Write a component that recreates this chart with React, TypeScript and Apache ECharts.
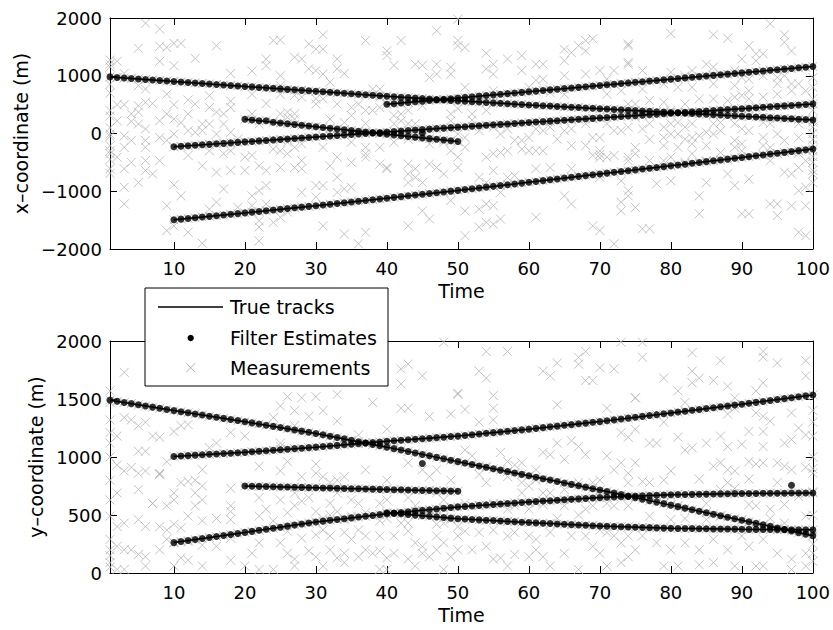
import React, { useEffect, useRef } from "react";
import * as echarts from "echarts";

// ---------- axes ----------
const timeTicks = [10, 20, 30, 40, 50, 60, 70, 80, 90, 100];
const xCoordRange = [-2000, 2000];
const yCoordRange = [0, 2000];

// ---------- true tracks (time, value) ----------
const xTrueA = [[1, 980], [10, 900], [20, 815], [30, 730], [40, 645], [50, 565], [60, 495], [70, 430], [80, 365], [90, 300], [100, 234]];
const xTrueB = [[10, -230], [20, -145], [30, -60], [40, 25], [50, 110], [60, 190], [70, 270], [80, 350], [90, 430], [100, 510]];
const xTrueC = [[10, -1495], [20, -1375], [30, -1250], [40, -1120], [50, -985], [60, -845], [70, -700], [80, -560], [90, -415], [100, -268]];
const xTrueD = [[20, 247], [30, 118], [40, -11], [50, -140]];
const xTrueE = [[40, 505], [50, 614], [60, 723], [70, 832], [80, 941], [90, 1050], [100, 1159]];

const yTrueA = [[1, 1490], [10, 1400], [20, 1304], [30, 1203], [40, 1085], [50, 960], [60, 838], [70, 715], [80, 585], [90, 455], [100, 322]];
const yTrueB = [[10, 1005], [20, 1040], [30, 1085], [40, 1135], [50, 1180], [60, 1240], [70, 1305], [80, 1380], [90, 1455], [100, 1535]];
const yTrueC = [[10, 262], [20, 350], [30, 440], [40, 510], [50, 570], [60, 612], [70, 650], [80, 675], [90, 685], [100, 690]];
const yTrueD = [[20, 750], [30, 735], [40, 720], [50, 705]];
const yTrueE = [[40, 520], [50, 468], [60, 435], [70, 405], [80, 385], [90, 377], [100, 372]];

// ---------- filter estimates (one per time step, from start time) ----------
const estStarts = { A: 1, B: 10, C: 10, D: 20, E: 40 };

const estXA = [980, 971, 962, 953, 944, 936, 927, 918, 909, 900,
  892, 883, 875, 866, 858, 849, 841, 832, 824, 815,
  807, 798, 790, 781, 773, 764, 756, 747, 739, 730,
  722, 713, 705, 696, 688, 679, 671, 662, 654, 645,
  637, 629, 621, 613, 605, 597, 589, 581, 573, 565,
  558, 551, 544, 537, 530, 523, 516, 509, 502, 495,
  489, 482, 476, 469, 463, 456, 450, 443, 437, 430,
  424, 417, 411, 404, 398, 391, 385, 378, 372, 365,
  359, 352, 346, 339, 333, 326, 320, 313, 307, 300,
  293, 287, 280, 274, 267, 260, 254, 247, 241, 234];
const estXB = [-230, -222, -213, -205, -196, -188, -179, -171, -162, -154, -145,
  -137, -128, -120, -111, -103, -94, -86, -77, -69, -60,
  -52, -43, -35, -26, -18, -9, -1, 8, 16, 25,
  34, 42, 51, 59, 68, 76, 85, 93, 102, 110,
  118, 126, 134, 142, 150, 158, 166, 174, 182, 190,
  198, 206, 214, 222, 230, 238, 246, 254, 262, 270,
  278, 286, 294, 302, 310, 318, 326, 334, 342, 350,
  358, 366, 374, 382, 390, 398, 406, 414, 422, 430,
  438, 446, 454, 462, 470, 478, 486, 494, 502, 510];
const estXC = [-1495, -1483, -1471, -1459, -1447, -1435, -1423, -1411, -1399, -1387, -1375,
  -1362, -1350, -1337, -1325, -1312, -1300, -1287, -1275, -1262, -1250,
  -1237, -1224, -1211, -1198, -1185, -1172, -1159, -1146, -1133, -1120,
  -1106, -1093, -1079, -1066, -1052, -1039, -1025, -1012, -998, -985,
  -971, -957, -943, -929, -915, -901, -887, -873, -859, -845,
  -830, -816, -801, -787, -772, -758, -743, -729, -714, -700,
  -686, -672, -658, -644, -630, -616, -602, -588, -574, -560,
  -545, -531, -516, -502, -487, -473, -458, -444, -429, -415,
  -400, -386, -371, -356, -341, -327, -312, -297, -283, -268];
const estXD = [247, 234, 221, 222, 195, 182, 169, 157, 144, 131, 118, 105, 92, 79, 66, 53, 40, 27, 15, 2,
  -11, -24, -37, -50, -63, -76, -89, -101, -114, -127, -140];
const estXE = [505, 516, 527, 538, 549, 560, 570, 581, 592, 603, 614,
  625, 636, 647, 658, 669, 679, 690, 701, 712, 723,
  734, 745, 756, 767, 778, 788, 799, 810, 821, 832,
  843, 854, 865, 876, 887, 897, 908, 919, 930, 941,
  952, 963, 974, 985, 996, 1006, 1017, 1028, 1039, 1050,
  1061, 1072, 1083, 1094, 1105, 1115, 1126, 1137, 1148, 1159];
const strayEstX = [[45, 14]];

const estYA = [1490, 1480, 1470, 1460, 1450, 1440, 1430, 1420, 1410, 1400,
  1390, 1381, 1371, 1362, 1352, 1342, 1333, 1323, 1314, 1304,
  1294, 1284, 1274, 1264, 1254, 1243, 1233, 1223, 1213, 1203,
  1191, 1179, 1168, 1156, 1144, 1132, 1120, 1109, 1097, 1085,
  1072, 1060, 1047, 1035, 1022, 1010, 997, 985, 972, 960,
  948, 936, 923, 911, 899, 887, 875, 862, 850, 838,
  826, 813, 801, 789, 776, 764, 752, 740, 727, 715,
  702, 689, 676, 663, 650, 637, 624, 611, 598, 585,
  572, 559, 546, 533, 520, 507, 494, 481, 468, 455,
  442, 428, 415, 402, 388, 375, 362, 348, 335, 322];
const estYB = [1005, 1009, 1012, 1016, 1019, 1023, 1026, 1030, 1033, 1037, 1040,
  1045, 1049, 1054, 1058, 1063, 1067, 1072, 1076, 1081, 1085,
  1090, 1095, 1100, 1105, 1110, 1115, 1120, 1125, 1130, 1135,
  1140, 1144, 1149, 1153, 1158, 1162, 1167, 1171, 1176, 1180,
  1186, 1192, 1198, 1204, 1210, 1216, 1222, 1228, 1234, 1240,
  1247, 1253, 1260, 1266, 1273, 1279, 1286, 1292, 1299, 1305,
  1313, 1320, 1328, 1335, 1343, 1350, 1358, 1365, 1373, 1380,
  1388, 1395, 1403, 1410, 1418, 1425, 1433, 1440, 1448, 1455,
  1463, 1471, 1479, 1487, 1495, 1503, 1511, 1519, 1527, 1535];
const estYC = [262, 271, 280, 288, 297, 306, 315, 324, 332, 341, 350,
  359, 368, 377, 386, 395, 404, 413, 422, 431, 440,
  447, 454, 461, 468, 475, 482, 489, 496, 503, 510,
  516, 522, 528, 534, 540, 546, 552, 558, 564, 570,
  574, 578, 583, 587, 591, 595, 599, 604, 608, 612,
  616, 620, 623, 627, 631, 635, 639, 642, 646, 650,
  653, 655, 658, 660, 663, 665, 668, 670, 673, 675,
  676, 677, 678, 679, 680, 681, 682, 683, 684, 685,
  686, 686, 687, 687, 688, 688, 689, 689, 690, 690];
const estYD = [750, 748, 747, 745, 744, 742, 741, 739, 738, 736, 735, 733, 732, 730, 729, 727, 726, 724, 723, 721,
  720, 718, 717, 715, 714, 712, 711, 709, 708, 706, 705];
const estYE = [520, 515, 510, 504, 499, 494, 489, 484, 478, 473, 468,
  465, 461, 458, 455, 452, 448, 445, 442, 438, 435,
  432, 429, 426, 423, 420, 417, 414, 411, 408, 405,
  403, 401, 399, 397, 395, 393, 391, 389, 387, 385,
  384, 383, 383, 382, 381, 380, 379, 379, 378, 377,
  376, 376, 375, 375, 374, 374, 373, 373, 372, 372];
const strayEstY = [[45, 944], [97, 757]];

// ---------- clutter measurements (time, value) ----------
const clutterX = [
  [6, 1910], [8, 1810], [5, 1475], [8, 1510], [9, 1490], [10, 1560], [11, 1560], [16, 1520], [2, 1250], [8, 1250], [10, 1175], [13, 1300], [18, 1040], [21, 1080], [23, 1290], [23, 1175], [24, 1610], [25, 1620], [3, 1040], [1, 1200],
  [5, 830], [6, 770], [9, 680], [12, 580], [15, 655], [18, 560], [21, 680], [25, 680], [2, 500], [3, 500], [4, 340], [5, 480], [5, 370], [6, 540], [7, 520], [10, 500], [12, 340], [13, 510], [15, 450], [16, 370], [17, 340], [18, 450], [23, 520], [25, 340],
  [2, 220], [4, 210], [5, 165], [6, 80], [8, 220], [9, 340], [10, 250], [11, 190], [13, 20], [14, 165], [15, 165], [17, 165], [21, 340], [22, 165], [1, -10], [3, -40], [4, -120], [6, -120], [8, -70], [10, -10], [12, 50], [14, 50], [16, -10], [18, 20], [19, -95],
  [1, -210], [3, -240], [6, -240], [9, -120], [12, -380], [15, -300], [17, -350], [18, -300], [20, -410], [21, -380], [22, -560], [24, -270], [1, -350], [2, -410], [4, -500], [6, -470], [8, -470], [14, -560], [16, -670], [18, -640], [20, -640], [23, -640], [25, -590],
  [1, -610], [3, -610], [6, -640], [7, -700], [5, -850], [3, -930], [10, -890], [11, -1080], [17, -960], [21, -1080], [22, -990], [23, -900], [3, -1220], [9, -1250], [16, -1190], [15, -1310], [19, -1280], [21, -1250], [22, -1510], [23, -1220], [24, -1540],
  [9, -1680], [10, -1600], [12, -1710], [14, -1900], [22, -1620], [22, -1860],
  [1, 1270], [1, 1150], [1, 850], [1, 700], [1, 400], [1, 300], [1, 100], [1, -50], [1, -300], [1, -450], [1, -690],
  [31, 1710], [29, 1550], [30, 1460], [31, 1460], [37, 1610], [42, 1610], [47, 1780], [40, 1430], [40, 1350], [41, 1180], [44, 1200], [45, 1180], [47, 1200], [47, 1030], [46, 970], [49, 1150], [49, 1030], [50, 1520], [27, 1320], [28, 1290], [33, 1290], [29, 1120], [30, 1090], [31, 1030], [33, 1120], [34, 1040], [32, 890],
  [25, 1000], [25, 830], [27, 660], [28, 630], [30, 600], [30, 510], [31, 600], [33, 510], [35, 450], [36, 510], [38, 770], [39, 770], [39, 630], [37, 400], [38, 400], [39, 450], [41, 310], [42, 340], [43, 400], [45, 480], [49, 340], [26, 370], [27, 340], [26, 280], [27, 250], [32, 250], [34, 190], [35, 310], [37, 170], [41, 170], [42, 220], [43, 170], [44, 170], [49, 220],
  [26, -150], [28, -180], [31, -240], [35, -150], [37, -240], [39, -240], [41, -150], [43, -100], [46, -180], [48, -150], [49, -300], [25, -300], [27, -240], [26, -350], [28, -470], [27, -590], [28, -610], [32, -560], [33, -410], [35, -500], [37, -410], [37, -350], [39, -530], [40, -590], [40, -610], [43, -530], [43, -700], [44, -610], [46, -530], [47, -590], [48, -700],
  [30, -900], [31, -900], [30, -1100], [33, -760], [34, -960], [35, -930], [33, -1020], [43, -850], [44, -760], [45, -850], [28, -1020], [26, -1360], [25, -1450], [31, -1600], [34, -1740], [36, -1910], [37, -1710], [43, -1600], [45, -1340], [46, -1480], [49, -1160], [50, -590], [50, -10], [50, 1980],
  [50, 1610], [51, 1490], [54, 1390], [55, 1200], [55, 1030], [54, 1120], [57, 1290], [59, 1350], [59, 1090], [61, 1200], [62, 1200], [61, 920], [62, 940], [65, 1460], [66, 1400], [67, 1520], [68, 1610], [69, 1640], [68, 1430], [65, 1260], [65, 1000], [68, 1030], [70, 1090], [71, 940], [74, 1520], [74, 1230], [72, 1090], [73, 740], [74, 510], [71, 680], [65, 680], [63, 710], [60, 800], [55, 740], [53, 600], [51, 800],
  [50, 430], [52, 340], [54, 400], [52, 230], [53, 50], [55, 110], [56, -10], [57, 80], [58, -120], [59, -120], [60, -70], [61, 80], [62, 50], [63, 110], [64, -100], [65, 50], [66, 80], [68, 170], [69, 250], [69, -70], [70, -70], [71, 170], [72, 50], [73, 50], [74, 110],
  [51, -70], [51, -240], [50, -410], [54, -410], [55, -350], [56, -330], [57, -300], [59, -270], [60, -300], [61, -300], [62, -300], [66, -210], [68, -210], [70, -300], [71, -410], [72, -380], [74, -470], [75, -350], [69, -380], [70, -420], [70, -360],
  [53, -760], [54, -850], [55, -640], [56, -1020], [57, -760], [58, -730], [61, -610], [63, -590], [66, -610], [70, -760], [73, -820], [74, -990], [51, -1340], [53, -1310], [54, -1220], [55, -1250], [54, -1540], [53, -1620], [55, -1570], [56, -1480], [61, -1450], [51, -1770], [65, -1080], [66, -1220], [69, -1600], [70, -1680], [72, -1910], [73, -1190], [73, -1340],
  [80, 1730], [86, 1710], [88, 1650], [94, 1900], [96, 1710], [96, 1580], [97, 1430], [91, 1520], [92, 1380], [93, 1380], [90, 1290], [92, 1260], [85, 1200], [83, 1090], [76, 1090], [80, 1060], [82, 1000], [86, 1150], [89, 1090], [90, 970], [91, 940], [93, 1000], [95, 970], [96, 1000], [97, 860], [98, 860], [99, 740], [100, 970], [74, 1550], [74, 1200],
  [76, 770], [79, 860], [81, 800], [83, 800], [86, 860], [89, 830], [91, 740], [95, 860], [75, 510], [77, 570], [79, 540], [80, 400], [82, 510], [84, 600], [86, 600], [88, 570], [89, 630], [90, 660], [91, 600], [93, 630], [95, 680], [97, 740],
  [75, 280], [77, 170], [79, 110], [80, 170], [81, 190], [82, 110], [83, 170], [86, 170], [87, 190], [89, 170], [90, 80], [91, 50], [93, 190], [94, 170], [98, 170], [100, 110], [76, 80], [77, -100], [79, -70], [80, -10], [81, -10], [82, -100], [83, -70], [84, -40], [85, 20], [86, -10], [87, 50], [89, -120], [90, -180], [93, -70], [95, -10], [96, -120], [98, -70], [100, -100],
  [75, -240], [79, -210], [81, -240], [83, -180], [85, -210], [87, -330], [89, -240], [90, -300], [93, -210], [94, -240], [95, -350], [98, -350], [100, -300], [74, -410], [77, -470], [79, -470], [80, -410], [82, -500], [83, -350], [85, -470], [88, -700], [89, -900], [91, -790], [94, -470], [96, -670], [97, -700], [98, -590], [99, -470], [100, -500], [100, -640],
  [78, -870], [80, -820], [85, -850], [84, -1080], [74, -1080], [75, -1280], [84, -1390], [90, -1390], [91, -1390], [94, -1220], [95, -1220], [95, -1420], [97, -1250], [99, -930], [98, -990], [99, -1250], [76, -1650], [77, -1650], [98, -1710], [99, -1770],
  [100, 800], [100, 600], [100, 400], [100, 200], [100, 0], [100, -200], [100, -400], [100, -700], [100, -850],
];

const clutterY = [
  [3, 1730], [1, 1570], [1, 1470], [1, 1320], [3, 1340], [4, 1320], [6, 1300], [5, 1270], [1, 1210], [2, 1180], [7, 1180], [8, 1170], [10, 1220], [11, 1270], [12, 1280], [18, 1210], [20, 1180], [25, 1440], [24, 1340], [1, 1120], [5, 1050], [6, 1050], [9, 960], [16, 1120], [15, 1080], [25, 1120],
  [2, 930], [3, 880], [4, 910], [5, 860], [6, 880], [5, 720], [8, 850], [8, 860], [12, 790], [13, 800], [14, 750], [11, 780], [14, 890], [18, 730], [22, 920], [25, 880], [1, 630], [2, 690], [7, 600], [9, 580], [10, 690], [10, 630], [13, 690], [13, 580], [14, 630], [18, 580], [18, 530], [22, 650], [23, 550], [25, 630],
  [1, 490], [2, 400], [3, 430], [5, 460], [6, 400], [8, 400], [9, 370], [10, 420], [11, 390], [12, 490], [14, 450], [16, 470], [18, 460], [22, 490], [24, 450], [1, 290], [2, 230], [3, 200], [5, 160], [6, 140], [4, 200], [8, 200], [9, 290], [10, 260], [12, 270], [14, 240], [16, 230], [18, 300], [21, 170], [22, 260], [25, 260],
  [1, 90], [2, 30], [3, 30], [6, 60], [10, 60], [11, 130], [12, 110], [14, 60], [18, 110], [20, 60], [22, 30], [24, 30], [1, 1000], [1, 800], [1, 200], [1, 150], [1, 50], [7, 600], [8, 850],
  [48, 1990], [42, 1760], [43, 1800], [45, 1700], [42, 1630], [50, 1540], [26, 1520], [28, 1510], [30, 1520], [33, 1540], [38, 1470], [42, 1420], [43, 1420], [46, 1350], [49, 1370], [27, 1400], [29, 1350], [31, 1400], [33, 1310], [40, 1240], [27, 1270], [36, 1190], [25, 1090],
  [37, 890], [40, 800], [46, 830], [26, 960], [28, 830], [30, 940], [30, 860], [31, 830], [32, 780], [33, 800], [34, 830], [43, 950], [45, 890], [49, 800], [47, 890], [27, 690], [28, 620], [29, 650], [32, 600], [33, 690], [35, 630], [36, 600], [39, 600], [40, 630], [43, 650], [44, 580], [47, 690], [48, 630],
  [26, 520], [27, 580], [30, 530], [31, 470], [32, 500], [33, 530], [34, 460], [35, 490], [37, 520], [39, 450], [40, 470], [42, 430], [43, 430], [47, 420], [48, 430], [49, 460], [26, 360], [28, 300], [30, 330], [31, 370], [32, 320], [34, 350], [35, 290], [36, 370], [37, 320], [39, 320], [41, 320], [43, 360], [44, 260], [45, 230], [47, 320], [48, 260], [50, 320],
  [26, 170], [27, 120], [29, 190], [30, 140], [32, 200], [33, 130], [34, 170], [36, 140], [37, 200], [38, 170], [39, 190], [40, 130], [41, 170], [43, 120], [44, 60], [45, 170], [46, 140], [47, 200], [49, 140], [27, 60], [31, 60], [34, 90], [39, 30], [40, 30], [48, 30],
  [54, 1910], [57, 1910], [53, 1740], [54, 1680], [62, 1740], [63, 1700], [64, 1810], [67, 1860], [67, 1800], [68, 1910], [69, 1660], [70, 1770], [72, 1760], [68, 1660], [73, 1990], [50, 1550], [55, 1530], [55, 1420], [55, 1320], [51, 1410], [53, 1300], [64, 1450], [71, 1420], [73, 1210], [74, 1170], [75, 1510],
  [51, 1060], [52, 1010], [54, 920], [53, 850], [56, 1040], [57, 960], [58, 930], [59, 950], [61, 890], [62, 1040], [63, 1020], [64, 1120], [65, 980], [66, 1140], [67, 1090], [68, 1020], [71, 1010], [72, 890], [73, 950], [74, 860],
  [54, 780], [57, 830], [59, 780], [60, 750], [59, 690], [61, 800], [62, 690], [63, 690], [65, 720], [67, 780], [69, 780], [70, 800], [74, 780], [51, 600], [53, 580], [55, 600], [57, 550], [58, 580], [60, 550], [61, 600], [62, 590], [65, 580], [67, 500], [68, 550], [69, 580], [71, 600], [72, 580], [74, 580],
  [50, 400], [51, 360], [53, 350], [55, 370], [57, 320], [58, 350], [60, 320], [61, 290], [63, 350], [64, 470], [66, 320], [68, 320], [70, 370], [71, 350], [72, 320], [73, 260], [74, 320],
  [50, 200], [52, 200], [54, 230], [55, 120], [56, 130], [57, 60], [58, 160], [60, 140], [61, 200], [62, 140], [63, 60], [65, 170], [67, 30], [69, 230], [70, 170], [71, 60], [73, 90], [74, 140], [75, 200],
  [76, 1990], [76, 1860], [83, 1900], [87, 1830], [93, 1910], [93, 1860], [95, 1810], [99, 1830], [79, 1680], [83, 1740], [84, 1680], [83, 1640], [86, 1660], [99, 1700], [75, 1510], [81, 1570], [88, 1610], [92, 1570], [93, 1640], [89, 1510], [82, 1470], [89, 1420], [88, 1370], [92, 1380], [93, 1350], [94, 1310], [97, 1380], [79, 1300], [75, 1240], [91, 1220], [93, 1220], [98, 1250], [99, 1190],
  [77, 1120], [78, 1120], [81, 1170], [82, 1060], [83, 1080], [85, 1120], [87, 1180], [88, 1090], [90, 1110], [93, 1090], [96, 1120], [97, 1150], [100, 1180],
  [75, 950], [80, 880], [79, 800], [76, 790], [77, 780], [84, 810], [87, 950], [86, 920], [88, 890], [89, 880], [91, 960], [92, 940], [93, 950], [95, 950], [96, 920], [97, 890], [99, 910], [88, 780], [91, 810], [95, 780], [100, 860],
  [80, 660], [79, 600], [81, 580], [85, 600], [87, 720], [89, 730], [91, 590], [92, 580], [94, 550], [96, 590], [98, 660], [99, 690], [77, 490], [80, 460], [82, 470], [85, 460], [87, 490], [90, 460], [92, 390], [94, 470], [96, 430], [99, 490],
  [76, 320], [78, 260], [80, 200], [82, 260], [84, 200], [86, 290], [88, 200], [90, 320], [91, 230], [93, 290], [95, 170], [97, 120], [99, 170], [100, 170], [79, 60], [81, 60], [84, 70], [86, 90], [89, 60], [92, 60], [93, 60], [97, 30], [99, 60],
  [100, 1400], [100, 1300], [100, 1000], [100, 900], [100, 700], [100, 500], [100, 250], [100, 100],
];

// ---------- styling ----------
const FONT = "DejaVu Sans";
const GRAY = "#b4b4b4";
const CROSS = "path://M0 0L10 10M10 0L0 10";

const toPairs = (start: number, arr: number[]) => arr.map((v, i) => [start + i, v]);

function buildOption() {
  const estX = [
    ...toPairs(estStarts.A, estXA), ...toPairs(estStarts.B, estXB), ...toPairs(estStarts.C, estXC),
    ...toPairs(estStarts.D, estXD), ...toPairs(estStarts.E, estXE),
  ];
  const estY = [
    ...toPairs(estStarts.A, estYA), ...toPairs(estStarts.B, estYB), ...toPairs(estStarts.C, estYC),
    ...toPairs(estStarts.D, estYD), ...toPairs(estStarts.E, estYE),
  ];
  const minusFmt = (v: number) => (v < 0 ? "\u2212" + Math.abs(v) : String(v));

  const xAx = (gridIndex: number, position: string, labels: boolean) => ({
    type: "value", gridIndex, position, min: 1, max: 100,
    axisLine: { show: true, onZero: false, lineStyle: { color: "#000", width: 1 } },
    axisTick: { show: true, inside: true, length: 7, customValues: timeTicks, lineStyle: { color: "#000" } },
    axisLabel: { show: labels, customValues: timeTicks, fontSize: 18, fontFamily: FONT, color: "#000", margin: 10 },
    splitLine: { show: false },
    name: labels ? "Time" : "", nameLocation: "middle", nameGap: 32,
    nameTextStyle: { fontSize: 19, fontFamily: FONT, color: "#000" },
  });
  const yAx = (gridIndex: number, position: string, labels: boolean, range: number[], interval: number, name: string, nameGap: number) => ({
    type: "value", gridIndex, position, min: range[0], max: range[1], interval,
    axisLine: { show: true, onZero: false, lineStyle: { color: "#000", width: 1 } },
    axisTick: { show: true, inside: true, length: 7, lineStyle: { color: "#000" } },
    axisLabel: { show: labels, fontSize: 18, fontFamily: FONT, color: "#000", margin: 8, formatter: minusFmt },
    splitLine: { show: false },
    name: labels ? name : "", nameLocation: "middle", nameGap, nameRotate: 90,
    nameTextStyle: { fontSize: 19, fontFamily: FONT, color: "#000" },
  });

  const panelSeries = (xi: number, yi: number, clutter: number[][], est: number[][], stray: number[][], tracks: number[][][]) => [
    {
      type: "scatter", xAxisIndex: xi, yAxisIndex: yi, data: clutter, symbol: CROSS, symbolSize: 9,
      itemStyle: { color: "none", borderColor: GRAY, borderWidth: 1 }, silent: true, clip: false,
    },
    {
      type: "scatter", xAxisIndex: xi, yAxisIndex: yi, data: est, symbol: CROSS, symbolSize: 9,
      itemStyle: { color: "none", borderColor: GRAY, borderWidth: 1 }, silent: true, clip: false,
    },
    ...tracks.map((tr) => ({
      type: "line", xAxisIndex: xi, yAxisIndex: yi, data: tr, showSymbol: false, symbol: "none",
      lineStyle: { color: "#000", width: 1.5 }, silent: true,
    })),
    {
      type: "scatter", xAxisIndex: xi, yAxisIndex: yi, data: [...est, ...stray], symbol: "circle", symbolSize: 7,
      itemStyle: { color: "#000" }, silent: true, clip: false,
    },
  ];

  const legendX = 145, legendY = 288;
  const LZ = 1000;
  const txt = (y: number, text: string) => ({
    type: "text", x: legendX + 85, y: legendY + y, z: LZ + 1,
    style: { text, fontSize: 19, fontFamily: FONT, fill: "#000", textVerticalAlign: "middle" },
  });
  return {
    animation: false,
    backgroundColor: "#fff",
    grid: [
      { left: 110, top: 18, width: 703, height: 231 },
      { left: 110, top: 341, width: 703, height: 232 },
    ],
    xAxis: [xAx(0, "bottom", true), xAx(0, "top", false), xAx(1, "bottom", true), xAx(1, "top", false)],
    yAxis: [
      yAx(0, "left", true, xCoordRange, 1000, "x\u2013coordinate (m)", 76),
      yAx(0, "right", false, xCoordRange, 1000, "", 0),
      yAx(1, "left", true, yCoordRange, 500, "y\u2013coordinate (m)", 63),
      yAx(1, "right", false, yCoordRange, 500, "", 0),
    ],
    series: [
      ...panelSeries(0, 0, clutterX, estX, strayEstX, [xTrueA, xTrueB, xTrueC, xTrueD, xTrueE]),
      ...panelSeries(2, 2, clutterY, estY, strayEstY, [yTrueA, yTrueB, yTrueC, yTrueD, yTrueE]),
    ],
    graphic: [
      { type: "rect", z: LZ, shape: { x: legendX, y: legendY, width: 243, height: 98 }, style: { fill: "#fff", stroke: "#000", lineWidth: 1 } },
      { type: "line", z: LZ + 1, shape: { x1: legendX + 13, y1: legendY + 19, x2: legendX + 78, y2: legendY + 19 }, style: { stroke: "#000", lineWidth: 1.5 } },
      txt(19, "True tracks"),
      { type: "circle", z: LZ + 1, shape: { cx: legendX + 45.7, cy: legendY + 50, r: 3.2 }, style: { fill: "#000" } },
      txt(50, "Filter Estimates"),
      { type: "line", z: LZ + 1, shape: { x1: legendX + 41.2, y1: legendY + 75.2, x2: legendX + 50.2, y2: legendY + 84.2 }, style: { stroke: GRAY, lineWidth: 1 } },
      { type: "line", z: LZ + 1, shape: { x1: legendX + 50.2, y1: legendY + 75.2, x2: legendX + 41.2, y2: legendY + 84.2 }, style: { stroke: GRAY, lineWidth: 1 } },
      txt(80, "Measurements"),
    ],
  };
}

export default function App() {
  const ref = useRef<HTMLDivElement>(null);
  useEffect(() => {
    if (!ref.current) return;
    const chart = echarts.init(ref.current, null, { renderer: "svg" });
    chart.setOption(buildOption() as any);
    return () => chart.dispose();
  }, []);
  return (
    <div
      ref={ref}
      style={{ position: "absolute", left: 0, top: 0, width: 833, height: 630, background: "#fff" }}
    />
  );
}
